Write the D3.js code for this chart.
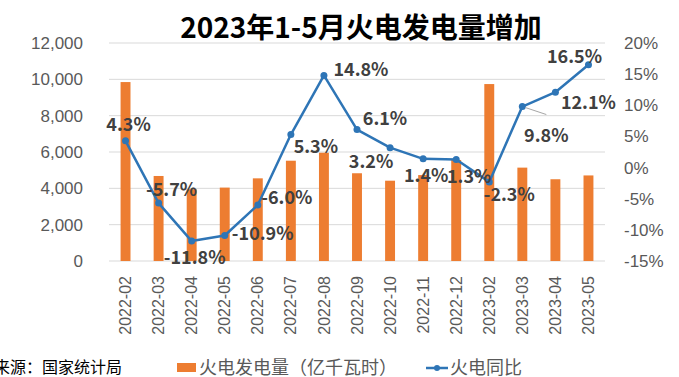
<!DOCTYPE html>
<html>
<head>
<meta charset="utf-8">
<script src="https://cdn.jsdelivr.net/npm/d3@7"></script>
<style>
  html, body { margin: 0; padding: 0; background: #fff; }
  svg { display: block; font-family: "Noto Sans CJK SC", "Noto Sans", sans-serif; }
</style>
</head>
<body>
<svg id="chart" width="679" height="377"></svg>
<script>
const months = ['2022-02','2022-03','2022-04','2022-05','2022-06','2022-07','2022-08','2022-09',
                '2022-10','2022-11','2022-12','2023-02','2023-03','2023-04','2023-05'];
const output = [9850, 4680, 3950, 4040, 4550, 5520, 5960, 4830, 4420, 4730, 5560, 9740, 5140, 4500, 4710];
const yoy = [4.3, -5.7, -11.8, -10.9, -6.0, 5.3, 14.8, 6.1, 3.2, 1.4, 1.3, -2.3, 9.8, 12.1, 16.5];
const leftTicks = [0, 2000, 4000, 6000, 8000, 10000, 12000];
const rightTicks = [-15, -10, -5, 0, 5, 10, 15, 20];

// label placement, tuned by eye
const labelShift = [[3,-16],[13,-13],[3,17],[38,-2],[29,-7],[25,12],[37,-6],[28,-11],
                    [-19,14],[3,17],[13,17],[20,13],[24,29],[33,10],[-14,-8]];

const svg = d3.select('#chart');
const plotL = 109, plotR = 605, plotT = 43, plotB = 261;

const x = d3.scaleBand().domain(months).range([plotL, plotR]).paddingInner(0.7).paddingOuter(0.35);
const yL = d3.scaleLinear().domain([0, 12000]).range([plotB, plotT]);
const yR = d3.scaleLinear().domain([-15, 20]).range([plotB, plotT]);
const cx = d => x(d) + x.bandwidth() / 2;

// gridlines
svg.append('g').selectAll('line').data(leftTicks).enter().append('line')
  .attr('x1', plotL).attr('x2', plotR)
  .attr('y1', d => yL(d)).attr('y2', d => yL(d))
  .attr('stroke', '#d9d9d9').attr('stroke-width', 1);

// left axis
const axL = svg.append('g').attr('transform', `translate(${plotL - 26},0)`)
  .call(d3.axisLeft(yL).tickValues(leftTicks).tickSize(0).tickFormat(d3.format(',')));
axL.select('.domain').remove();
axL.selectAll('text').attr('font-size', 17).attr('fill', '#595959').attr('font-family', null).attr('x', 0);

// right axis
const axR = svg.append('g').attr('transform', `translate(${plotR + 19},0)`)
  .call(d3.axisRight(yR).tickValues(rightTicks).tickSize(0).tickFormat(d => d + '%'));
axR.select('.domain').remove();
axR.selectAll('text').attr('font-size', 17).attr('fill', '#595959').attr('font-family', null).attr('x', 0);

// x axis labels (rotated)
const axX = svg.append('g').attr('transform', `translate(0,${plotB})`)
  .call(d3.axisBottom(x).tickSize(0));
axX.select('.domain').remove();
axX.selectAll('text')
  .attr('font-size', 16).attr('fill', '#595959').attr('font-family', null)
  .attr('transform', 'rotate(-90)')
  .attr('text-anchor', 'end')
  .attr('x', -15).attr('y', 0).attr('dy', '0.35em');

// bars
svg.append('g').selectAll('rect').data(output).enter().append('rect')
  .attr('x', (d, i) => x(months[i]))
  .attr('width', x.bandwidth())
  .attr('y', d => yL(d))
  .attr('height', d => yL(0) - yL(d))
  .attr('fill', '#ed7d31');

// line
const line = d3.line().x((d, i) => cx(months[i])).y(d => yR(d));
svg.append('path').datum(yoy).attr('d', line)
  .attr('fill', 'none').attr('stroke', '#2e75b6').attr('stroke-width', 2.5)
  .attr('stroke-linejoin', 'round');
svg.append('g').selectAll('circle').data(yoy).enter().append('circle')
  .attr('cx', (d, i) => cx(months[i])).attr('cy', d => yR(d)).attr('r', 3.5)
  .attr('fill', '#2e75b6');

// leader line for 9.8%
const li = yoy.indexOf(9.8);
svg.append('line')
  .attr('x1', cx(months[li]) + 3).attr('y1', yR(yoy[li]) + 1)
  .attr('x2', cx(months[li]) + 24).attr('y2', yR(yoy[li]) + 8)
  .attr('stroke', '#a6a6a6').attr('stroke-width', 1);

// data labels
svg.append('g').selectAll('text').data(yoy).enter().append('text')
  .attr('x', (d, i) => cx(months[i]) + labelShift[i][0])
  .attr('y', (d, i) => yR(d) + labelShift[i][1])
  .attr('dy', '0.35em')
  .attr('text-anchor', 'middle')
  .attr('font-size', 18).attr('font-weight', 'bold').attr('fill', '#404040')
  .text(d => d.toFixed(1) + '%');

// title
svg.append('text').attr('x', 361).attr('y', 38).attr('text-anchor', 'middle')
  .attr('font-size', 28).attr('font-weight', 'bold').attr('fill', '#000')
  .text('2023年1-5月火电发电量增加');

// source
svg.append('text').attr('x', -6).attr('y', 373)
  .attr('font-size', 16).attr('fill', '#000')
  .text('来源：国家统计局');

// legend
const lg = svg.append('g');
lg.append('rect').attr('x', 177).attr('y', 363).attr('width', 19).attr('height', 9).attr('fill', '#ed7d31');
lg.append('text').attr('x', 199).attr('y', 374).attr('font-size', 18).attr('fill', '#595959')
  .text('火电发电量（亿千瓦时）');
lg.append('line').attr('x1', 426).attr('x2', 448).attr('y1', 368).attr('y2', 368)
  .attr('stroke', '#2e75b6').attr('stroke-width', 2.5);
lg.append('circle').attr('cx', 437).attr('cy', 368).attr('r', 3).attr('fill', '#2e75b6');
lg.append('text').attr('x', 450).attr('y', 374).attr('font-size', 18).attr('fill', '#595959')
  .text('火电同比');
</script>
</body>
</html>
